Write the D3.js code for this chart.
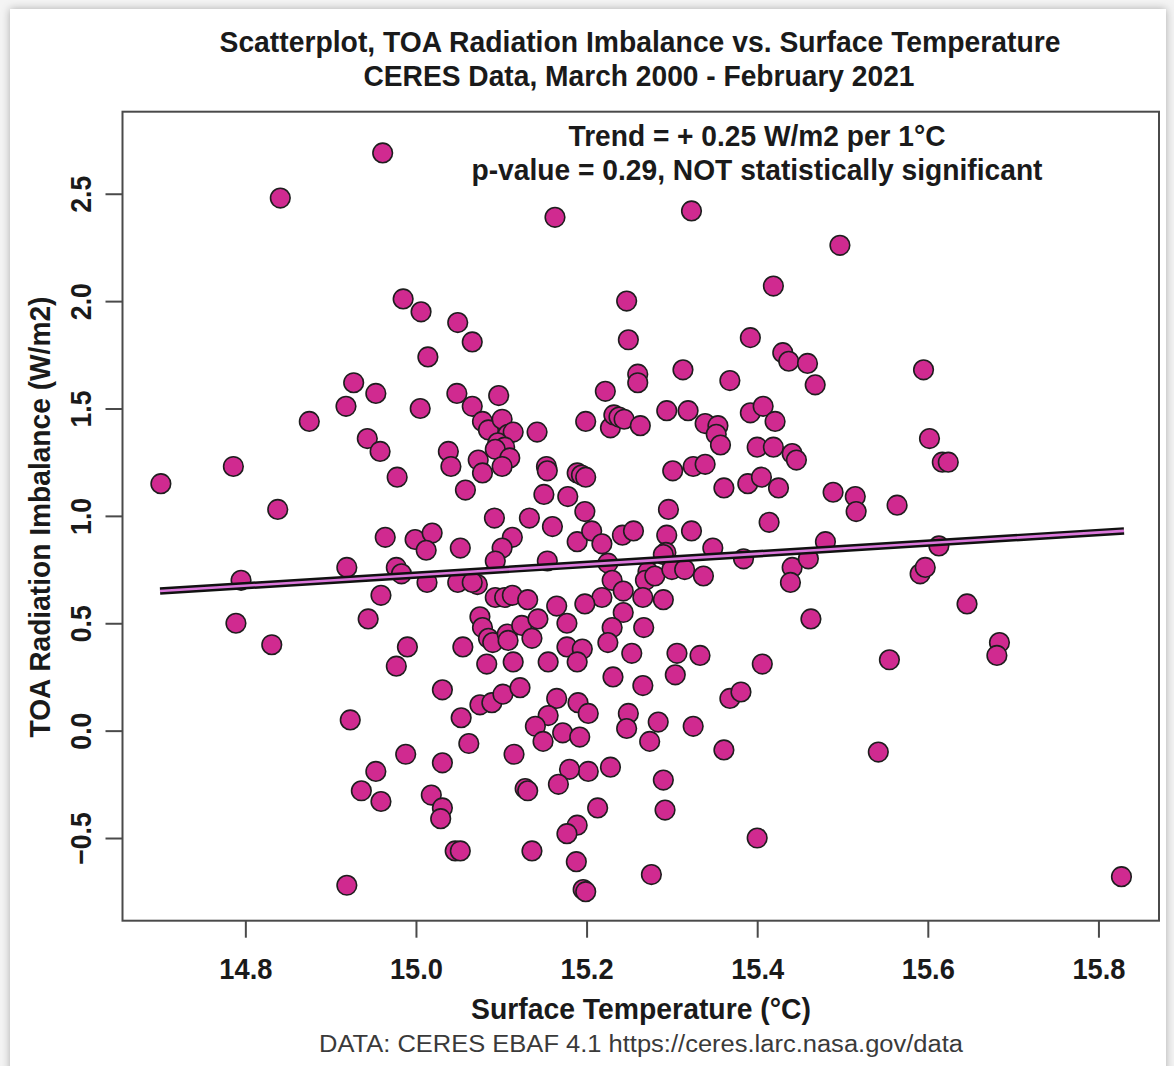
<!DOCTYPE html>
<html>
<head>
<meta charset="utf-8">
<script src="https://cdn.jsdelivr.net/npm/d3@7"></script>
<style>
  body { margin: 0; background: #ffffff; }
  svg { display: block; }
  text { font-family: "Liberation Sans", Arial, Helvetica, sans-serif; }
</style>
</head>
<body>
<div id="chart"></div>
<script>
const WIDTH = 1174;
const HEIGHT = 1066;

// surface temperature (°C), one value per month
const tempC = [
  14.961,14.841,15.163,15.323,15.497,14.985,15.006,15.419,15.247,15.049,
  15.066,15.014,15.249,15.392,15.430,15.437,15.459,15.468,15.595,15.602,
  15.617,15.624,15.489,15.515,15.516,15.564,14.927,14.953,14.918,14.875,
  15.005,15.048,14.943,14.958,15.038,15.041,14.978,14.786,14.701,14.838,
  15.058,15.097,15.066,15.078,15.085,15.101,15.108,15.114,15.096,15.104,
  15.093,15.110,15.101,15.073,15.078,15.142,15.153,15.154,15.150,15.178,
  15.189,15.194,15.199,15.198,15.092,15.133,15.160,15.199,15.222,15.228,
  15.232,15.238,15.244,15.263,15.260,15.260,15.313,15.368,15.294,15.319,
  15.339,15.354,15.352,15.357,15.392,15.407,15.421,15.400,15.419,15.441,
  15.446,15.301,15.325,15.339,15.361,15.389,15.405,15.425,15.296,15.414,
  14.795,14.789,14.831,14.919,14.964,14.999,15.019,15.012,15.052,14.977,
  14.983,15.013,15.049,14.959,14.944,14.990,14.977,15.031,15.055,15.053,
  15.062,14.923,14.988,15.031,14.953,14.936,14.959,15.018,15.031,15.029,
  15.046,15.052,14.919,
  15.113,15.101,15.093,15.154,15.189,15.206,15.218,15.242,15.255,15.294,
  15.293,15.323,15.348,15.384,15.441,15.439,15.225,15.230,15.243,15.272,
  15.269,15.280,15.290,15.300,15.315,15.337,15.266,15.290,15.218,15.198,
  15.243,15.230,15.225,15.267,15.253,15.231,15.266,15.306,15.333,15.304,
  15.406,15.368,15.381,15.325,15.361,15.400,15.290,15.292,15.276,15.249,
  15.247,15.284,15.274,15.228,15.202,15.180,15.167,15.128,15.131,15.213,
  15.189,15.177,15.136,15.188,15.196,15.199,15.115,15.075,15.089,15.102,
  15.122,15.165,15.190,15.202,15.155,15.140,15.149,15.172,15.192,15.083,
  15.114,15.155,15.177,15.195,15.189,15.075,15.078,15.085,15.090,15.107,
  15.108,15.124,15.136,15.143,15.165,15.177,15.093,15.104,15.113,15.131,
  15.072,15.066,
  15.480,15.460,15.613,15.591,15.597,15.646,15.684,15.681,15.463,15.555,
  15.542,15.827
];

// TOA radiation imbalance (W/m2), same order
const toaImbalance = [
  2.69,2.48,2.39,2.42,2.26,2.01,1.95,2.07,2.00,1.90,
  1.81,1.74,1.82,1.83,1.76,1.72,1.71,1.61,1.68,1.36,
  1.25,1.25,1.11,1.09,1.02,1.05,1.62,1.57,1.51,1.44,
  1.50,1.57,1.36,1.30,1.30,1.23,1.18,1.23,1.15,1.03,
  1.12,1.56,1.51,1.44,1.40,1.45,1.38,1.39,1.34,1.32,
  1.31,1.27,1.23,1.26,1.20,1.39,1.23,1.21,1.10,1.09,
  1.20,1.19,1.18,1.02,0.99,0.99,0.95,1.44,1.58,1.41,
  1.47,1.46,1.45,1.42,1.66,1.62,1.68,1.63,1.49,1.49,
  1.43,1.42,1.38,1.33,1.48,1.51,1.44,1.32,1.32,1.29,
  1.26,1.21,1.23,1.24,1.13,1.15,1.18,1.13,1.03,0.97,
  0.70,0.50,0.40,0.76,0.90,0.89,0.92,0.84,0.85,0.76,
  0.73,0.69,0.69,0.63,0.52,0.39,0.30,0.19,0.39,0.06,
  -0.06,0.05,-0.11,-0.15,-0.19,-0.28,-0.33,-0.30,-0.36,-0.41,
  -0.56,-0.56,-0.72,
  0.90,0.85,0.79,0.79,0.88,0.93,0.87,0.91,0.93,0.91,
  0.83,0.93,0.85,0.80,0.76,0.69,0.78,0.70,0.65,0.74,
  0.70,0.72,0.82,0.75,0.75,0.72,0.62,0.61,0.62,0.59,
  0.55,0.48,0.41,0.48,0.36,0.25,0.21,0.36,0.35,0.26,
  0.31,0.15,0.18,0.02,-0.09,-0.50,-0.23,-0.37,-0.67,0.08,
  0.01,0.04,-0.05,-0.17,-0.19,-0.18,-0.25,-0.27,-0.28,-0.36,
  -0.44,-0.48,-0.56,-0.61,-0.74,-0.75,-0.11,0.12,0.13,0.17,
  0.20,0.15,0.13,0.08,0.07,0.02,-0.05,-0.01,-0.03,0.31,
  0.32,0.32,0.39,0.38,0.32,0.53,0.48,0.43,0.41,0.45,
  0.42,0.49,0.43,0.52,0.58,0.50,0.62,0.62,0.63,0.61,
  0.68,0.69,
  0.88,0.80,0.86,0.73,0.76,0.59,0.41,0.35,0.52,0.33,
  -0.10,-0.68
];

const xTicks = [14.8, 15.0, 15.2, 15.4, 15.6, 15.8];
const yTicks = [-0.5, 0.0, 0.5, 1.0, 1.5, 2.0, 2.5];

// trend line ends (temperature, imbalance)
const trendX = [14.70, 15.83];
const trendY = [0.65, 0.93];

const data = tempC.map((t, i) => ({ t: t, v: toaImbalance[i] }));

const svg = d3.select("#chart").append("svg")
  .attr("width", WIDTH)
  .attr("height", HEIGHT);

// card look of the screenshot
const defs = svg.append("defs");
const flt = defs.append("filter").attr("id", "shadow")
  .attr("x", "-5%").attr("y", "-5%").attr("width", "110%").attr("height", "110%");
flt.append("feDropShadow").attr("dx", 0).attr("dy", 0)
  .attr("stdDeviation", 4).attr("flood-color", "#000").attr("flood-opacity", 0.3);

svg.append("rect").attr("width", WIDTH).attr("height", HEIGHT).attr("fill", "#f4f4f4");
svg.append("rect")
  .attr("x", 10).attr("y", 9).attr("width", 1156).attr("height", 1080)
  .attr("fill", "#fff")
  .attr("filter", "url(#shadow)");

const x = d3.scaleLinear().domain([14.656, 15.871]).range([122.5, 1159]);
const y = d3.scaleLinear().domain([-0.885, 2.882]).range([920.7, 111.7]);

// frame
svg.append("rect")
  .attr("x", x.range()[0]).attr("y", y.range()[1])
  .attr("width", x.range()[1] - x.range()[0])
  .attr("height", y.range()[0] - y.range()[1])
  .attr("fill", "none")
  .attr("stroke", "#4a4a4a")
  .attr("stroke-width", 2);

// x axis
const gx = svg.append("g")
  .attr("transform", `translate(0,${y.range()[0]})`)
  .call(d3.axisBottom(x).tickValues(xTicks).tickSize(17).tickFormat(d3.format(".1f")));
gx.select(".domain").remove();
gx.selectAll("line").attr("stroke", "#4a4a4a").attr("stroke-width", 2);
gx.selectAll("text")
  .attr("y", 0).attr("dy", 0)
  .attr("transform", "translate(0,58) scale(0.94,1)")
  .attr("fill", "#1a1a1a")
  .style("font-size", "29px").style("font-weight", "bold");

// y axis, labels written vertically
const gy = svg.append("g")
  .attr("transform", `translate(${x.range()[0]},0)`)
  .call(d3.axisLeft(y).tickValues(yTicks).tickSize(17).tickFormat(d3.format(".1f")));
gy.select(".domain").remove();
gy.selectAll("line").attr("stroke", "#4a4a4a").attr("stroke-width", 2);
gy.selectAll("text")
  .attr("x", 0).attr("y", 0).attr("dy", 0)
  .attr("transform", "translate(-32,0) rotate(-90) scale(0.92,1)")
  .attr("text-anchor", "middle")
  .attr("fill", "#1a1a1a")
  .style("font-size", "29px").style("font-weight", "bold");

// points
svg.append("g").selectAll("circle")
  .data(data)
  .enter()
  .append("circle")
  .attr("cx", d => x(d.t))
  .attr("cy", d => y(d.v))
  .attr("r", 9.8)
  .attr("fill", "#d02a90")
  .attr("stroke", "#1e1e1e")
  .attr("stroke-width", 1.6);

// trend line: black outline with a pink core
const trend = d3.line().x(d => x(d[0])).y(d => y(d[1]));
const trendPts = trendX.map((t, i) => [t, trendY[i]]);
svg.append("path").attr("d", trend(trendPts))
  .attr("stroke", "#111").attr("stroke-width", 7.5).attr("fill", "none");
svg.append("path").attr("d", trend(trendPts))
  .attr("stroke", "#dc78dc").attr("stroke-width", 2.6).attr("fill", "none");

// texts
function label(txt, cx, base, size, weight, len, fill) {
  return svg.append("text")
    .attr("x", cx).attr("y", base)
    .attr("text-anchor", "middle")
    .attr("textLength", len)
    .attr("lengthAdjust", "spacingAndGlyphs")
    .attr("fill", fill || "#1a1a1a")
    .style("font-size", size + "px")
    .style("font-weight", weight)
    .text(txt);
}

label("Scatterplot, TOA Radiation Imbalance vs. Surface Temperature", 640, 52, 29, "bold", 841);
label("CERES Data, March 2000 - February 2021", 639, 86, 29, "bold", 551);
label("Trend = + 0.25 W/m2 per 1°C", 757, 146, 29, "bold", 377);
label("p-value = 0.29, NOT statistically significant", 757, 180, 29, "bold", 571);
label("Surface Temperature (°C)", 641, 1019, 29, "bold", 340);
label("DATA: CERES EBAF 4.1 https://ceres.larc.nasa.gov/data", 641, 1052, 23, "normal", 644, "#3a3a3a");

svg.append("text")
  .attr("transform", "translate(50,517) rotate(-90)")
  .attr("text-anchor", "middle")
  .attr("textLength", 441)
  .attr("lengthAdjust", "spacingAndGlyphs")
  .attr("fill", "#1a1a1a")
  .style("font-size", "30px")
  .style("font-weight", "bold")
  .text("TOA Radiation Imbalance (W/m2)");
</script>
</body>
</html>
